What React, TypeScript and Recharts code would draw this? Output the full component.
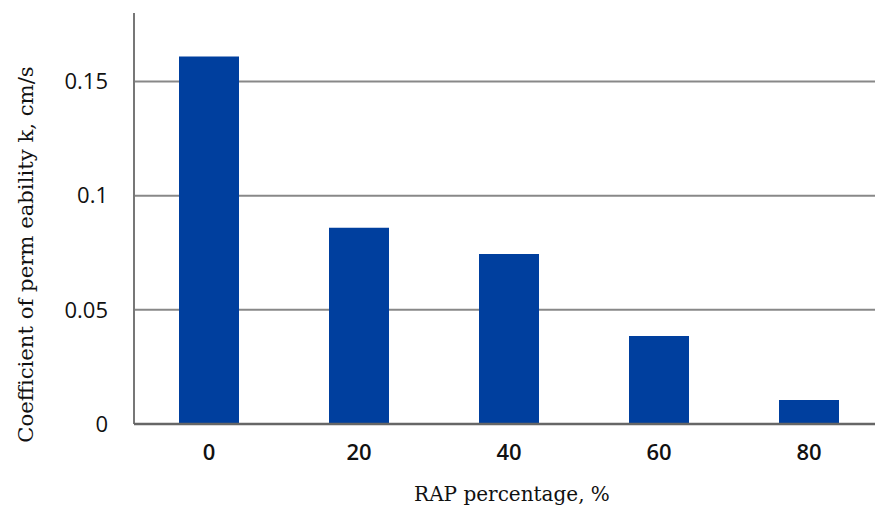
import React from "react";
import { BarChart, Bar, XAxis, YAxis, CartesianGrid, Label } from "recharts";

const categories = ["0", "20", "40", "60", "80"];
const permeability = [0.161, 0.086, 0.0745, 0.0385, 0.0105];
const yTicks = [0, 0.05, 0.1, 0.15];

const data = categories.map((c, i) => ({ rap: c, k: permeability[i] }));

const fmt = (v: number) => (v === 0 ? "0" : String(v));

const YTitle = (props: any) => {
  const vb = props.viewBox || {};
  const cx = 25;
  const cy = (vb.y ?? 13) + (vb.height ?? 411) / 2 + 36;
  return (
    <text
      x={cx}
      y={cy}
      transform={`rotate(-90, ${cx}, ${cy})`}
      textAnchor="middle"
      dominantBaseline="central"
      fontFamily="'DejaVu Serif', serif"
      fontSize={21.2}
      fill="#111"
    >
      Coefficient of perm eability k, cm/s
    </text>
  );
};

const XTitle = (props: any) => {
  const vb = props.viewBox || {};
  const cx = (vb.x ?? 134) + (vb.width ?? 750) / 2 + 3;
  return (
    <text
      x={cx}
      y={494}
      textAnchor="middle"
      dominantBaseline="central"
      fontFamily="'DejaVu Serif', serif"
      fontSize={20}
      fill="#111"
    >
      RAP percentage, %
    </text>
  );
};

export default function App() {
  return (
    <div style={{ position: "absolute", left: 0, top: 0, width: 875, height: 510, overflow: "hidden", background: "#fff" }}>
      <BarChart
        width={884}
        height={510}
        data={data}
        margin={{ top: 13, right: 0, left: 0, bottom: 0 }}
        barSize={60}
      >
        <CartesianGrid vertical={false} stroke="#888" strokeWidth={2} horizontalValues={[0.05, 0.1, 0.15]} />
        <YAxis
          width={134}
          domain={[0, 0.18]}
          ticks={yTicks}
          tickFormatter={fmt}
          tickLine={false}
          tickSize={0}
          tickMargin={26}
          axisLine={{ stroke: "#777", strokeWidth: 2 }}
          tick={{ fill: "#111", fontSize: 22, fontFamily: "'Open Sans', sans-serif" }}
          interval={0}
        >
          <Label content={<YTitle />} />
        </YAxis>
        <XAxis
          dataKey="rap"
          height={86}
          tickLine={false}
          tickSize={0}
          tickMargin={20}
          axisLine={{ stroke: "#666", strokeWidth: 2.5 }}
          tick={{ fill: "#111", fontSize: 22, fontFamily: "'Open Sans', sans-serif", fontWeight: 600 }}
        >
          <Label content={<XTitle />} />
        </XAxis>
        <Bar dataKey="k" fill="#003f9e" isAnimationActive={false} />
      </BarChart>
    </div>
  );
}
